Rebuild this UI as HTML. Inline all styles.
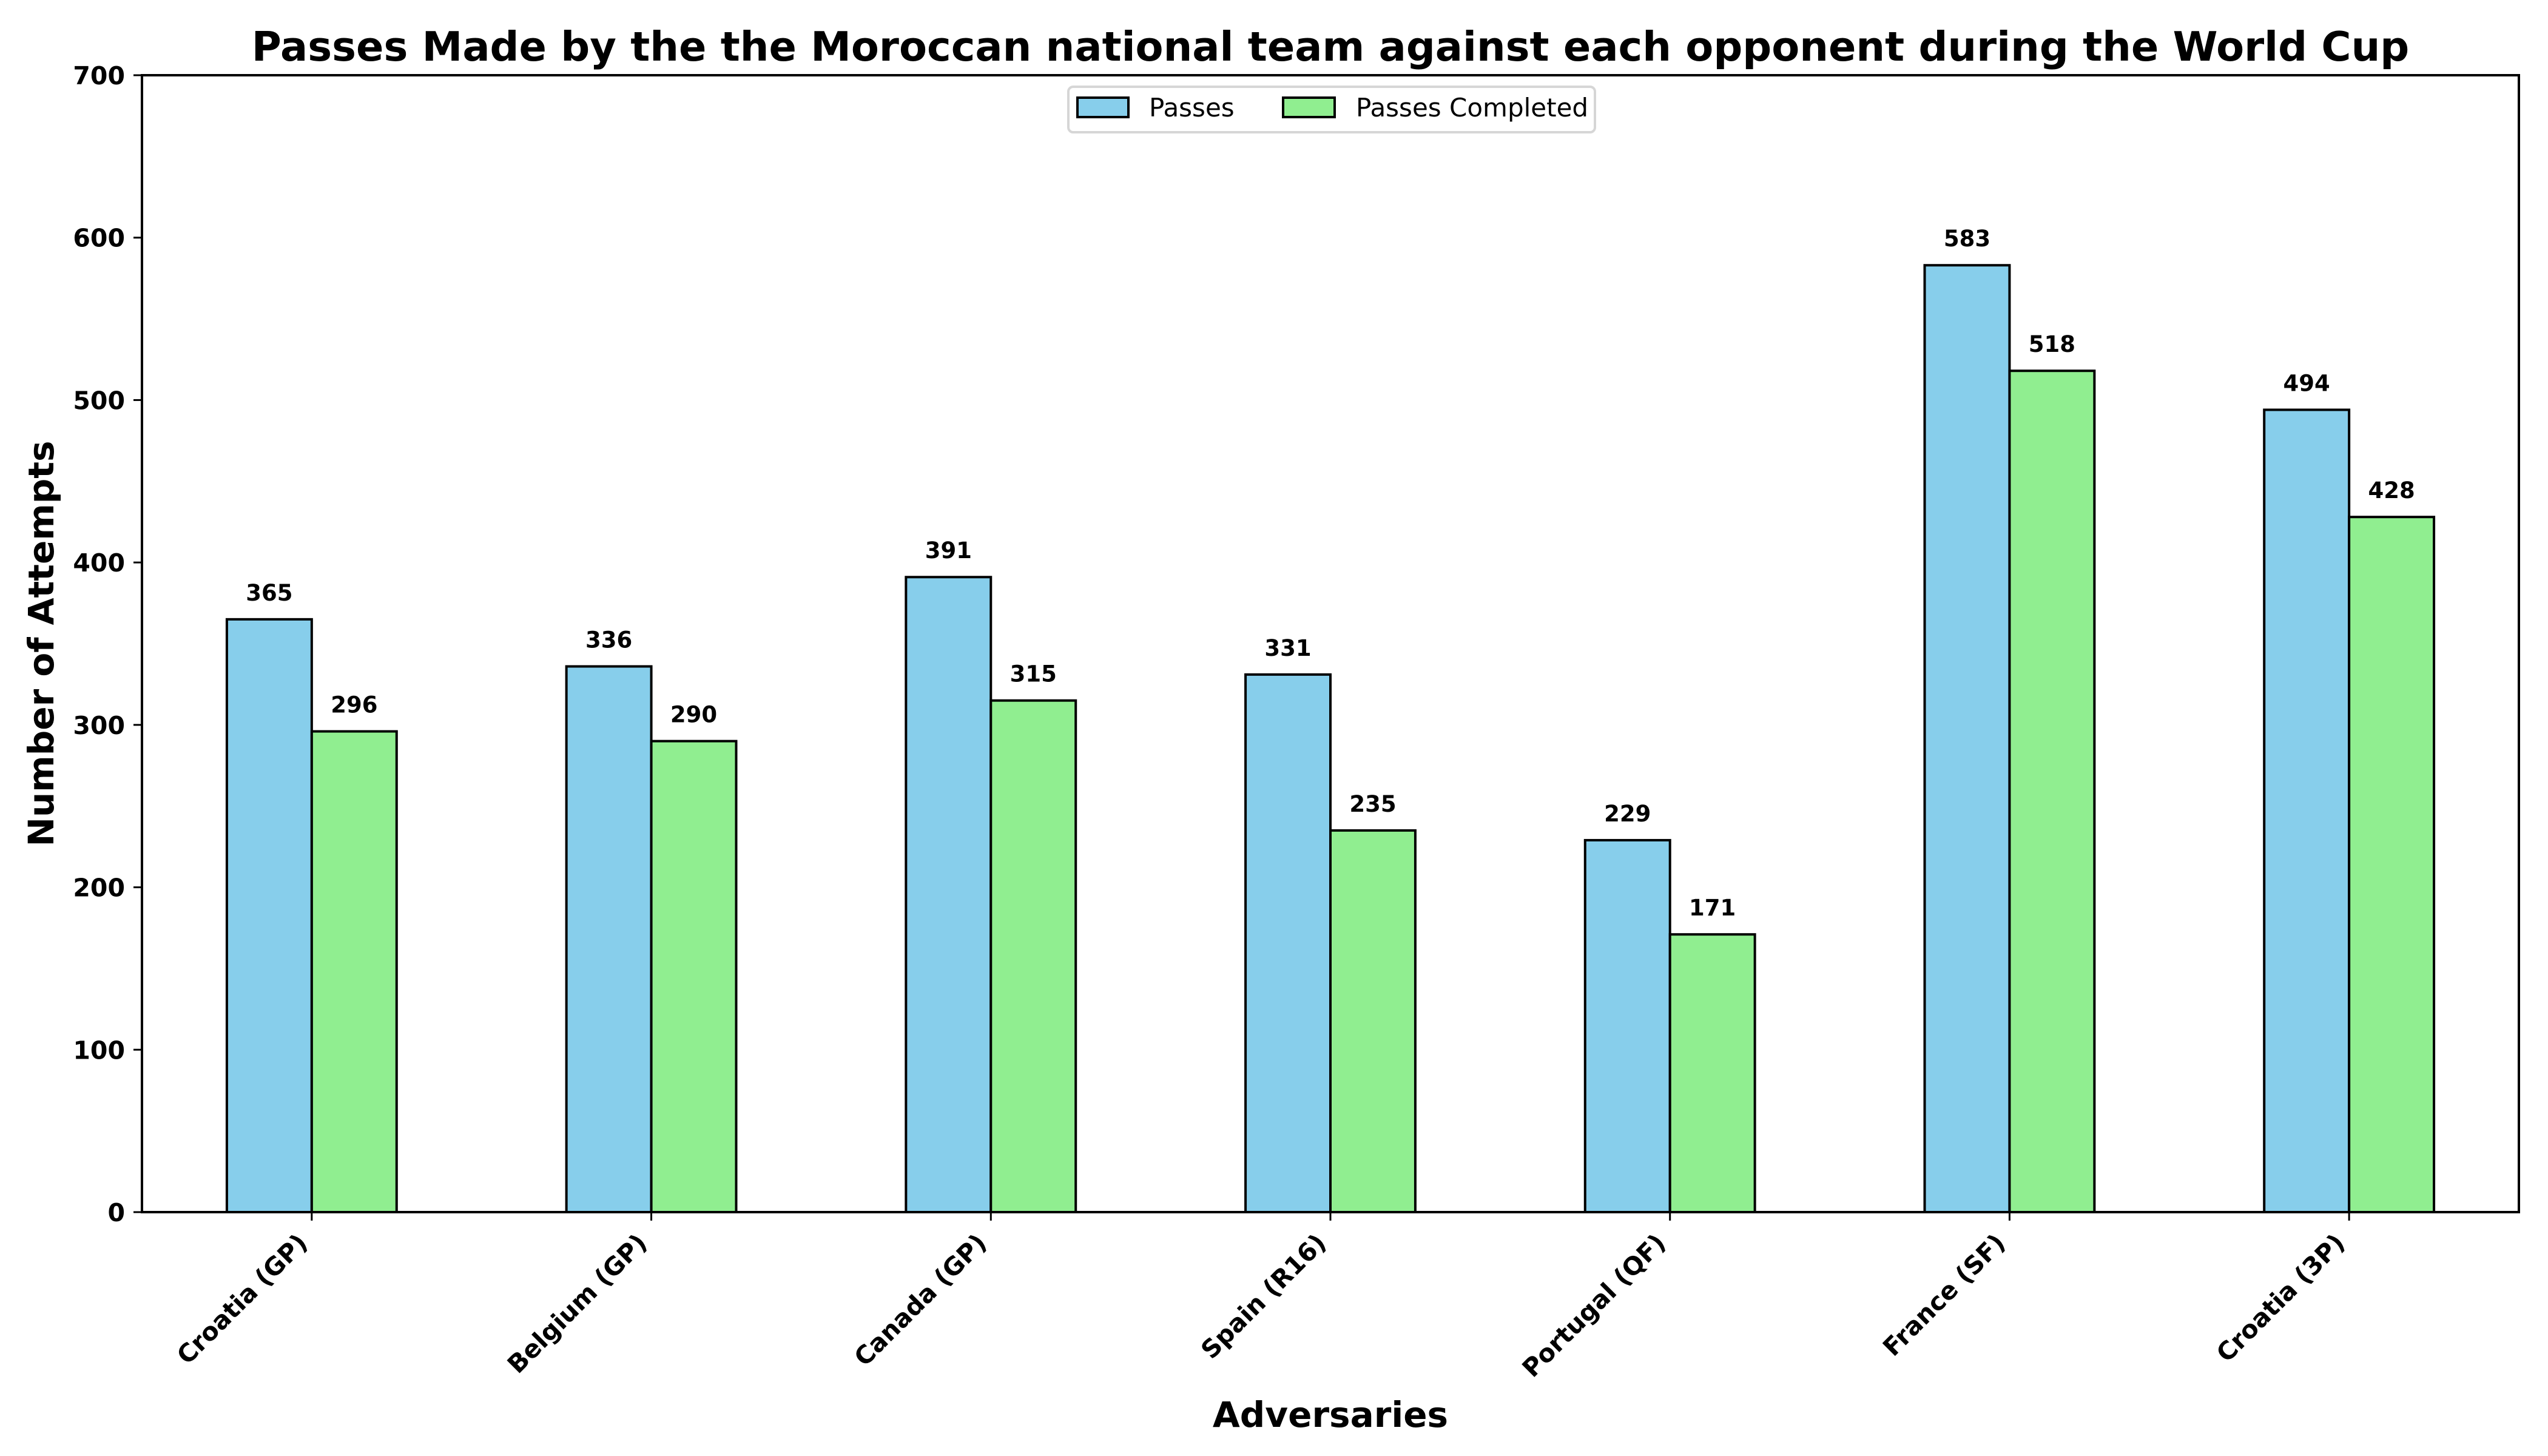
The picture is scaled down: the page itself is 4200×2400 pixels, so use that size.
<!DOCTYPE html>
<html><head><meta charset="utf-8"><style>
html,body{margin:0;padding:0;background:#fff}
svg{display:block;font-family:"DejaVu Sans","Liberation Sans",sans-serif}
</style></head><body>
<svg id="chart" width="4200" height="2400" viewBox="0 0 4200 2400" xmlns="http://www.w3.org/2000/svg">
<rect width="4200" height="2400" fill="#fff"/>
<text x="2193" y="100" text-anchor="middle" font-size="67" font-weight="bold">Passes Made by the the Moroccan national team against each opponent during the World Cup</text>
<g id="grid"></g>
<g id="bars"></g>
<g id="labels"></g>
<g id="axes"></g>
<text transform="translate(88,1061) rotate(-90)" text-anchor="middle" font-size="58" font-weight="bold">Number of Attempts</text>
<text x="2193" y="2352" text-anchor="middle" font-size="58" font-weight="bold">Adversaries</text>
<g>
<rect x="1761" y="143" width="868" height="75" rx="8" fill="#fff" stroke="#d6d6d6" stroke-width="4"/>
<rect x="1776" y="161" width="84" height="32" fill="#87ceeb" stroke="#000" stroke-width="4"/>
<text x="1894" y="192" font-size="42">Passes</text>
<rect x="2115" y="161" width="85" height="32" fill="#90ee90" stroke="#000" stroke-width="4"/>
<text x="2235" y="192" font-size="42">Passes Completed</text>
</g>
</svg>
<script>
const categories = ["Croatia (GP)","Belgium (GP)","Canada (GP)","Spain (R16)","Portugal (QF)","France (SF)","Croatia (3P)"];
const passes = [365,336,391,331,229,583,494];
const completed = [296,290,315,235,171,518,428];
const yTicks = [0,100,200,300,400,500,600,700];

const NS="http://www.w3.org/2000/svg";
const L=234,R=4152,T=124,B=1998,YMAX=700;
const step=(R-L)/categories.length;
const bw=step*0.25;
function xC(i){return L+step*(i+0.5);}
function y(v){return B-(v/YMAX)*(B-T);}
function mk(tag,attrs,parent,text){const e=document.createElementNS(NS,tag);for(const k in attrs)e.setAttribute(k,attrs[k]);if(text!==undefined)e.textContent=text;parent.appendChild(e);return e;}
const bars=document.getElementById('bars'),labels=document.getElementById('labels'),axes=document.getElementById('axes');
categories.forEach((c,i)=>{
  const series=[[passes[i],'#87ceeb',-1,'passes'],[completed[i],'#90ee90',0,'completed']];
  series.forEach(s=>{
    const x=xC(i)+s[2]*bw;
    const r=mk('rect',{x:x,y:y(s[0]),width:bw,height:B-y(s[0]),fill:s[1],stroke:'#000','stroke-width':4},bars);
    
    
    const t=mk('text',{x:x+bw/2,y:y(s[0])-31,'text-anchor':'middle','font-size':37,'font-weight':'bold'},labels,String(s[0]));
    
    
  });
  const tk=mk('line',{x1:xC(i),x2:xC(i),y1:B,y2:B+14,stroke:'#000','stroke-width':3},axes);
  
  
  const tl=mk('text',{transform:'translate('+(xC(i)-26)+','+(B+32)+') rotate(-45)','text-anchor':'end','font-size':41,'font-weight':'bold',y:30},axes,c);
  
  
});
yTicks.forEach(v=>{
  const tk=mk('line',{x1:L-14,x2:L,y1:y(v),y2:y(v),stroke:'#000','stroke-width':3},axes);
  
  
  const tl=mk('text',{x:L-28,y:y(v)+15,'text-anchor':'end','font-size':41,'font-weight':'bold'},axes,String(v));
  
  
});
const frame=mk('rect',{x:L,y:T,width:R-L,height:B-T,fill:'none',stroke:'#000','stroke-width':4},axes);


</script>
</body></html>
